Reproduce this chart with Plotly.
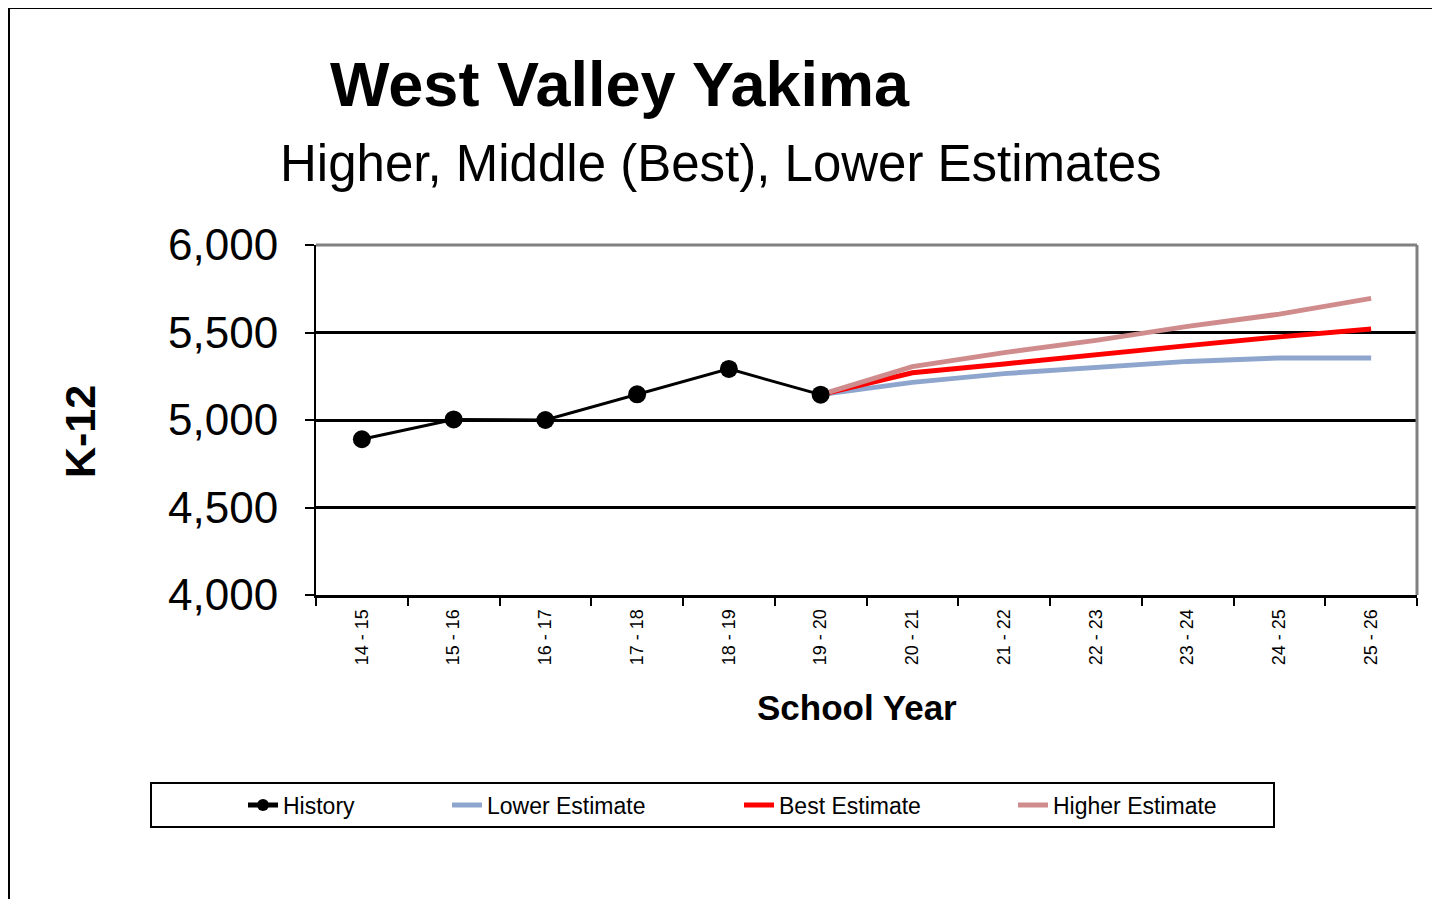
import plotly.graph_objects as go

years = ["14 - 15", "15 - 16", "16 - 17", "17 - 18", "18 - 19", "19 - 20",
         "20 - 21", "21 - 22", "22 - 23", "23 - 24", "24 - 25", "25 - 26"]
history_years = years[:6]
history = [4890, 5003, 5000, 5147, 5292, 5145]
proj_years = years[5:]
lower = [5145, 5215, 5265, 5300, 5335, 5355, 5355]
best = [5145, 5270, 5320, 5375, 5425, 5475, 5520]
higher = [5145, 5305, 5385, 5455, 5535, 5605, 5695]

FONT = "Liberation Sans, Arial, sans-serif"
OFF = 8  # page body margin
W, H = 1432, 891
L, R, T = 316 - OFF, 23, 245 - OFF
B = H - (595 - OFF)
PW, PH = W - L - R, H - T - B


def px(x):
    return (x - OFF - L) / PW


def py(y):
    return (H - B - (y - OFF)) / PH


fig = go.Figure()
fig.add_trace(go.Scatter(x=proj_years, y=lower, mode="lines", name="Lower Estimate",
                         line=dict(color="#8EA6CD", width=5), legend="legend2"))
fig.add_trace(go.Scatter(x=proj_years, y=best, mode="lines", name="Best Estimate",
                         line=dict(color="#FF0000", width=5), legend="legend3"))
fig.add_trace(go.Scatter(x=proj_years, y=higher, mode="lines", name="Higher Estimate",
                         line=dict(color="#D08C8C", width=5), legend="legend4"))
fig.add_trace(go.Scatter(x=history_years, y=history, mode="lines+markers", name="History",
                         line=dict(color="black", width=3),
                         marker=dict(color="black", size=18), legend="legend"))

leg_common = dict(orientation="h", yanchor="middle", xanchor="left", y=py(805),
                  bgcolor="rgba(0,0,0,0)", borderwidth=0,
                  font=dict(family=FONT, size=23, color="black"))
fig.update_layout(
    width=W, height=H,
    margin=dict(l=L, r=R, t=T, b=B),
    paper_bgcolor="white", plot_bgcolor="white",
    font=dict(family=FONT, color="black"),
    showlegend=True,
    legend=dict(x=px(243), itemsizing="constant", **leg_common),
    legend2=dict(x=px(447), **leg_common),
    legend3=dict(x=px(739), **leg_common),
    legend4=dict(x=px(1013), **leg_common),
    xaxis=dict(type="category", categoryorder="array", categoryarray=years,
               range=[-0.5, 11.5], tickson="boundaries", ticks="outside",
               ticklen=8, tickwidth=2, tickcolor="black", tickangle=-90,
               ticklabelstandoff=4,
               tickfont=dict(family=FONT, size=18, color="black"),
               showline=True, linecolor="black", linewidth=3, showgrid=False,
               zeroline=False),
    yaxis=dict(range=[4000, 6000], tickvals=[4000, 4500, 5000, 5500, 6000],
               ticktext=["4,000", "4,500", "5,000", "5,500", "6,000"],
               ticks="outside", ticklen=9, tickwidth=2, tickcolor="black",
               ticklabelstandoff=18,
               tickfont=dict(family=FONT, size=44, color="black"),
               showline=True, linecolor="black", linewidth=2,
               showgrid=True, gridcolor="black", gridwidth=2.5, zeroline=False),
    shapes=[
        dict(type="line", xref="paper", yref="paper", x0=0, x1=1, y0=1, y1=1,
             line=dict(color="#808080", width=3), layer="above"),
        dict(type="line", xref="paper", yref="paper", x0=1, x1=1, y0=0, y1=1,
             line=dict(color="#808080", width=3), layer="above"),
        dict(type="line", xref="paper", yref="paper", x0=px(9), x1=px(1445),
             y0=py(8), y1=py(8), line=dict(color="black", width=2)),
        dict(type="line", xref="paper", yref="paper", x0=px(9), x1=px(9),
             y0=py(8), y1=py(905), line=dict(color="black", width=2)),
        dict(type="rect", xref="paper", yref="paper", x0=px(151), x1=px(1274),
             y0=py(783), y1=py(827), line=dict(color="black", width=2)),
    ],
    annotations=[
        dict(text="<b>West Valley Yakima</b>", xref="paper", yref="paper",
             x=px(620), y=py(84), xanchor="center", yanchor="middle",
             showarrow=False, font=dict(family=FONT, size=63, color="black")),
        dict(text="Higher, Middle (Best), Lower Estimates", xref="paper", yref="paper",
             x=px(721), y=py(164), xanchor="center", yanchor="middle",
             showarrow=False, font=dict(family=FONT, size=51, color="black")),
        dict(text="<b>K-12</b>", xref="paper", yref="paper", textangle=-90,
             x=px(80), y=py(432), xanchor="center", yanchor="middle",
             showarrow=False, font=dict(family=FONT, size=43, color="black")),
        dict(text="<b>School Year</b>", xref="paper", yref="paper",
             x=px(857), y=py(707), xanchor="center", yanchor="middle",
             showarrow=False, font=dict(family=FONT, size=35, color="black")),
    ],
)

fig.write_html("out.html")
